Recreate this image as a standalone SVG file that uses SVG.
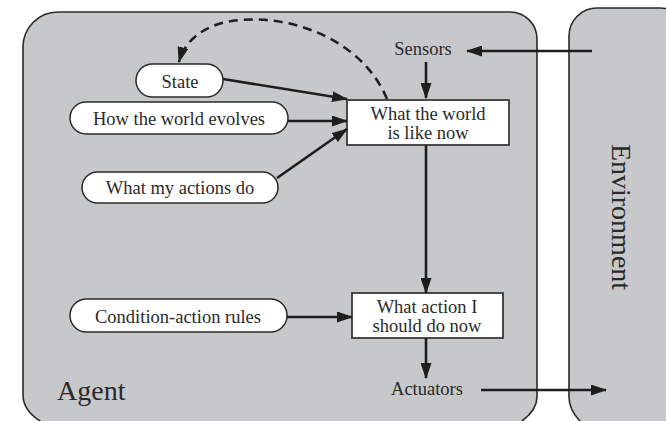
<svg xmlns="http://www.w3.org/2000/svg" width="666" height="421" viewBox="0 0 666 421">
  <style>
    .region { fill: #c7c8ca; stroke: #2a2a2a; stroke-width: 1.6; }
    .pill { fill: #ffffff; stroke: #2a2a2a; stroke-width: 1.5; }
    .box { fill: #ffffff; stroke: #3a3a3a; stroke-width: 1.8; }
    .t { font-family: "Liberation Serif", "Times New Roman", serif; font-size: 18.5px; fill: #2a2a2a; text-anchor: middle; }
    .big { font-family: "Liberation Serif", "Times New Roman", serif; font-size: 28px; fill: #2a2a2a; }
    .edge { fill: none; stroke: #1e1e1e; stroke-width: 2.6; marker-end: url(#ah); }
    .dash { stroke-dasharray: 9 6; }
  </style>
  <defs>
    <marker id="ah" markerUnits="userSpaceOnUse" markerWidth="16" markerHeight="11" refX="15" refY="5.5" orient="auto">
      <path d="M0,0 L16,5.5 L0,11 Z" fill="#1e1e1e"/>
    </marker>
  </defs>
  <rect width="666" height="421" fill="#ffffff"/>

  <g id="agent">
    <path class="region" d="M40,421 Q23,410 23,395 L23,47 A35,35 0 0 1 58,12 L510,12 A27,27 0 0 1 537,39 L537,397 Q537,410 522,421 L522,430 L40,430 Z"/>
    <text class="big" x="57" y="400">Agent</text>
  </g>

  <g id="environment">
    <path class="region" d="M580,421 Q569,410 569,397 L569,36 A28,28 0 0 1 597,8 L660,8 A30,30 0 0 1 690,38 L690,430 L580,430 Z"/>
    <text class="big" text-anchor="middle" transform="translate(612,217) rotate(90)">Environment</text>
  </g>

  <g id="sensors">
    <text class="t" x="423" y="55">Sensors</text>
  </g>
  <g id="actuators">
    <text class="t" x="427" y="395">Actuators</text>
  </g>

  <g id="state">
    <rect class="pill" x="136" y="64" width="87" height="33" rx="16.5"/>
    <text class="t" x="180" y="88">State</text>
  </g>
  <g id="world-evolves">
    <rect class="pill" x="70" y="102" width="218" height="32" rx="16"/>
    <text class="t" x="179" y="125">How the world evolves</text>
  </g>
  <g id="actions-do">
    <rect class="pill" x="82" y="172" width="196" height="31" rx="15.5"/>
    <text class="t" x="180" y="194">What my actions do</text>
  </g>
  <g id="rules">
    <rect class="pill" x="70" y="299" width="217" height="33" rx="16.5"/>
    <text class="t" x="178" y="323">Condition-action rules</text>
  </g>

  <g id="world-now">
    <rect class="box" x="347" y="100" width="162" height="45"/>
    <text class="t" x="428" y="120">What the world</text>
    <text class="t" x="428" y="139">is like now</text>
  </g>
  <g id="action-now">
    <rect class="box" x="352" y="293" width="151" height="45"/>
    <text class="t" x="427" y="313">What action I</text>
    <text class="t" x="427" y="332">should do now</text>
  </g>

  <g id="connectors">
    <path class="edge" d="M592,51 L467,51"/>
    <path class="edge" d="M426,62 L426,98"/>
    <path class="edge" d="M223,79 L347,99"/>
    <path class="edge" d="M288,121 L347,121"/>
    <path class="edge" d="M277,178 L347,129"/>
    <path class="edge" d="M426,145 L426,293"/>
    <path class="edge" d="M287,317 L352,317"/>
    <path class="edge" d="M426,338 L426,378"/>
    <path class="edge" d="M481,390 L606,390"/>
    <path class="edge dash" d="M387,99 C365,45 300,15 240,20 C205,23 185,40 179,62"/>
  </g>
</svg>
